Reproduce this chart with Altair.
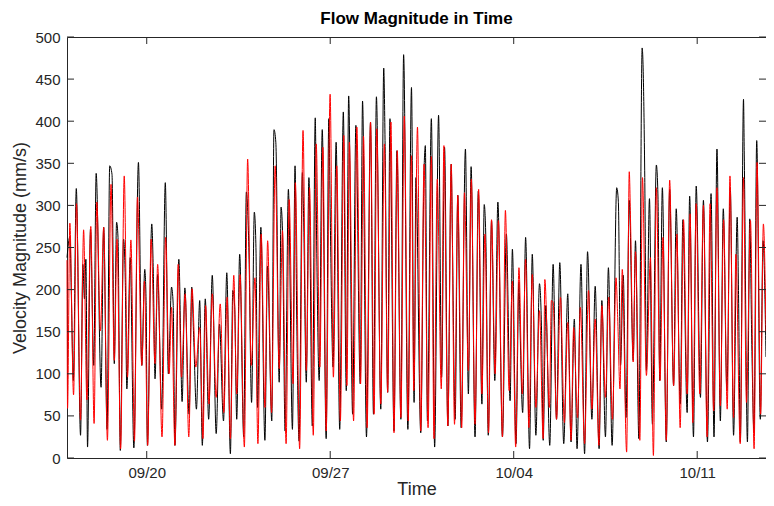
import altair as alt
import pandas as pd

START = pd.Timestamp("2023-09-16 23:00")

# Black series: turning points (hours since start, mm/s)
black_hours = [0, 2.7, 4.0, 5.8, 8.5, 12.4, 14.5, 16.0, 17.3, 18.8, 21.5, 24.5, 26.7, 31.2, 33.6, 36.7, 39.1, 41.2, 43.3, 45.4, 46.7, 48.8, 51.8, 53.3, 54.8, 57.9, 61.2,
               65.4, 68.5, 71.2, 72.4, 73.6, 77.6, 79.0, 80.6, 83.0, 86.7, 90.0, 92.8, 95.7, 97.2, 98.8, 102.4, 105.4, 107.9, 111.8, 114.2, 116.0, 118.5, 121.5, 123.9,
               126.6, 129.7, 133.0, 136.6, 139.6, 143.3, 146.3, 149.6, 151.8, 153.5, 155.4, 158.1, 161.8, 164.2, 166.5, 169.0, 171.5, 173.0, 174.5, 177.5, 181.2, 183.6, 187.5, 189.5,
               191.2, 194.3, 196.0, 197.3, 199.7, 202.7, 206.4, 208.8, 210.3, 212.5, 215.5, 216.6, 219.1, 221.5, 224.6, 227.3, 228.5, 230.9, 233.7, 237.3, 239.7, 241.2, 243.6, 246.4, 249.7, 253.0,
               255.7, 257.9, 261.5, 264.5, 268.5, 270.6, 274.2, 277.9, 280.6, 283.3, 287.3, 290.0, 291.2, 293.6, 295.7, 299.4, 302.1, 305.7, 308.2, 312.1, 315.4,
               317.8, 319.5, 323.9, 326.9, 328.1, 330.0, 333.6, 336.6, 340.2, 343.0, 345.7, 348.7, 351.8, 352.6, 355.4, 357.8, 360.9, 364.8, 367.5, 370.0, 373.6, 376.6, 379.9,
               382.0, 383.5, 385.7, 388.7, 391.7, 394.5, 398.7, 402.3, 405.7, 407.8, 411.1, 413.8, 414.8, 417.2, 419.9, 423.5, 426.0, 429.3, 432.6, 434.5, 436.0, 438.4, 442.0,
               445.1, 448.2, 451.2, 454.8, 458.5, 459.7, 461.5, 464.5, 467.0, 470.6, 473.9, 476.6, 480.6, 483.6, 487.2, 489.7, 493.0, 495.7, 499.1, 503.3, 504.8,
               506.8, 509.3, 511.8, 514.8, 518.4, 520.5, 523.6, 526.6, 529.0, 530.5, 533.3, 536.0, 539.6, 541.1, 542.7, 545.1, 548.7, 551.8, 555.4, 557.8, 561.5, 563.9, 567.8, 570.1,
               573.6, 576.1, 580.0, 582.7, 586.4, 589.7, 592.4, 595.1, 598.2, 600.9, 604.2, 607.3, 610.3, 613.6, 614.8, 616.5, 619.4, 620.1, 623.0, 625.1, 627.0, 629.0, 631.5, 634.8, 637.3, 640.0]
black_vals = [238, 263, 193, 92, 320, 27, 230, 189, 236, 13, 272, 110, 338, 84, 274, 34, 347, 337, 112, 280, 262, 9, 260, 215, 82, 238, 12,
              351, 110, 224, 187, 15, 278, 222, 94, 218, 58, 327, 100, 203, 183, 15, 236, 67, 202, 52, 203, 143, 58, 187, 15,
              189, 46, 217, 29, 159, 44, 220, 5, 199, 180, 46, 242, 25, 316, 250, 66, 292, 250, 60, 274, 21, 228, 44, 390,
              375, 90, 298, 270, 32, 319, 34, 347, 171, 20, 339, 290, 90, 333, 38, 404, 266, 92, 390, 23, 403, 270, 108, 375, 34, 411,
              80, 430, 52, 395, 88, 424, 25, 399, 52, 429, 58, 463, 377, 78, 403, 32, 365, 46, 479, 34, 440,
              66, 333, 30, 341, 371, 44, 403, 13, 407, 96, 369, 38, 349, 286, 46, 312, 36, 367, 76, 346, 25, 317, 64,
              301, 260, 27, 282, 92, 304, 25, 266, 68, 248, 17, 209, 155, 54, 262, 11, 242, 27, 207, 151, 21, 181, 15,
              230, 46, 232, 17, 195, 127, 19, 165, 11, 230, 5, 245, 46, 204, 11, 187, 25, 226, 15, 321, 305,
              110, 217, 48, 306, 116, 258, 23, 487, 333, 104, 308, 40, 348, 310, 92, 321, 19, 319, 86, 296, 64, 283, 54, 311,
              25, 323, 72, 306, 19, 314, 25, 367, 44, 296, 80, 321, 27, 286, 199, 19, 426, 361, 19, 284, 135, 30, 377, 46, 258, 120]

# Red series: turning points (hours since start, mm/s)
red_hours = [0, 0.5, 2.6, 6.0, 8.7, 12.4, 15.2, 18.2, 21.8, 24.8, 27.3, 30.6, 33.6, 37.0, 40.3, 43.3, 45.8, 49.1, 52.4, 55.4, 58.5, 61.8,
             64.5, 68.5, 70.9, 73.9, 77.0, 80.6, 83.0, 87.0, 90.3, 93.5, 95.7, 98.8, 101.8, 104.8, 108.2, 111.5, 114.5, 117.9, 121.5, 124.5,
             126.9, 130.0, 133.0, 136.6, 140.3, 143.6, 146.6, 149.6, 152.7, 155.4, 158.4, 162.4, 165.4, 168.7, 172.1, 174.8, 177.8, 181.2, 183.7, 187.3,
             190.6, 194.3, 197.3, 200.6, 203.4, 207.0, 209.1, 213.0, 216.1, 219.1, 222.1, 225.5, 228.2, 231.5, 234.3, 237.3, 240.9, 243.9, 247.0, 250.3, 253.4,
             256.3, 258.5, 262.4, 265.4, 268.8, 271.5, 274.8, 277.9, 281.2, 283.6, 287.3, 290.6, 293.6, 296.6, 299.4, 302.4, 305.7, 308.8, 312.4, 315.4,
             317.5, 320.9, 323.9, 326.9, 330.6, 333.6, 336.0, 339.0, 342.7, 345.1, 348.7, 351.8, 354.8, 357.8, 361.4, 363.9, 367.5, 370.2, 373.6, 376.9, 379.9,
             382.6, 386.0, 388.7, 392.0, 395.0, 398.7, 401.4, 404.8, 407.8, 410.8, 413.8, 416.9, 419.9, 422.9, 426.0, 429.3, 432.6, 436.0, 437.5, 441.7, 443.5,
             445.1, 448.2, 451.8, 455.4, 458.5, 461.5, 463.9, 467.5, 470.0, 473.9, 477.5, 480.6, 483.6, 487.0, 489.7, 493.0, 496.0, 499.4, 502.7, 504.2, 506.3,
             508.4, 512.4, 514.8, 516.0, 518.4, 520.5, 524.5, 526.9, 530.5, 534.2, 536.9, 539.6, 543.0, 545.7, 548.7, 551.8, 555.4, 558.4, 561.4, 564.5, 567.8, 570.5,
             573.0, 576.1, 579.4, 582.7, 586.1, 588.8, 592.1, 595.1, 598.2, 601.2, 604.5, 607.0, 610.3, 612.4, 616.4, 619.4, 622.1, 625.8, 629.1, 631.8, 635.1, 637.6, 640.0]
red_vals = [235, 59, 279, 75, 302, 45, 271, 69, 275, 41, 304, 151, 274, 21, 325, 116, 260, 11, 335, 96, 259, 20,
            310, 110, 210, 15, 260, 112, 230, 25, 262, 100, 179, 15, 230, 96, 195, 25, 201, 108, 155, 23,
            181, 64, 195, 72, 183, 54, 191, 23, 217, 76, 218, 13, 355, 110, 214, 17, 266, 60, 258, 54,
            347, 106, 270, 17, 307, 88, 327, 11, 389, 104, 321, 27, 373, 108, 369, 32, 432, 96, 347, 44, 383,
            86, 375, 44, 393, 88, 382, 36, 399, 52, 391, 64, 373, 78, 399, 30, 365, 48, 406, 44, 359,
            80, 393, 32, 349, 36, 358, 23, 331, 82, 371, 38, 349, 40, 312, 36, 315, 104, 331, 40, 319, 76,
            266, 30, 283, 100, 282, 25, 294, 80, 210, 13, 226, 76, 236, 36, 218, 60, 175, 23, 212, 60, 187,
            185, 46, 191, 42, 161, 21, 155, 48, 179, 17, 199, 58, 165, 15, 181, 72, 191, 46, 214, 167, 82,
            224, 7, 340, 280, 114, 245, 21, 333, 98, 238, 3, 321, 92, 262, 21, 330, 86, 266, 36, 283, 76, 290,
            42, 302, 76, 300, 25, 302, 56, 321, 62, 283, 58, 335, 48, 242, 17, 333, 66, 282, 11, 351, 52, 278, 150]

y_tick_values = [0, 50, 100, 150, 200, 250, 300, 350, 400, 450, 500]
x_tick_dates = ["2023-09-20T00:00:00", "2023-09-27T00:00:00", "2023-10-04T00:00:00", "2023-10-11T00:00:00"]

W, H = 699, 421
AX = "#262626"
FONT = "Liberation Sans"


def to_frame(hours, vals):
    return pd.DataFrame({
        "time": [(START + pd.Timedelta(hours=h)).strftime("%Y-%m-%dT%H:%M:%S") for h in hours],
        "value": vals,
    })


black_df = to_frame(black_hours, black_vals)
red_df = to_frame(red_hours, red_vals)

x_enc = alt.X(
    "time:T",
    scale=alt.Scale(domain=[alt.DateTime(year=2023, month=9, date=16, hours=23),
                            alt.DateTime(year=2023, month=10, date=13, hours=15)]),
    axis=alt.Axis(values=[alt.DateTime(year=2023, month=9, date=20),
                          alt.DateTime(year=2023, month=9, date=27),
                          alt.DateTime(year=2023, month=10, date=4),
                          alt.DateTime(year=2023, month=10, date=11)],
                  format="%m/%d", title="Time", labelPadding=7, titlePadding=0,
                  labelFlush=False),
)
y_enc = alt.Y(
    "value:Q",
    scale=alt.Scale(domain=[0, 500], nice=False),
    axis=alt.Axis(values=y_tick_values, title="Velocity Magnitude (mm/s)",
                  labelPadding=7, titlePadding=5, labelFlush=False),
)

black_line = alt.Chart(black_df).mark_line(color="#000000", strokeWidth=1, interpolate="monotone").encode(x=x_enc, y=y_enc)
red_line = alt.Chart(red_df).mark_line(color="#ff0000", strokeWidth=1, interpolate="monotone").encode(x=x_enc, y=y_enc)

xt = pd.DataFrame({"time": x_tick_dates})
yt = pd.DataFrame({"value": y_tick_values})

tick_b = alt.Chart(xt).mark_rule(color=AX, strokeWidth=1).encode(x=x_enc, y=alt.value(H), y2=alt.value(H - 7))
tick_t = alt.Chart(xt).mark_rule(color=AX, strokeWidth=1).encode(x=x_enc, y=alt.value(0), y2=alt.value(7))
tick_l = alt.Chart(yt).mark_rule(color=AX, strokeWidth=1).encode(y=y_enc, x=alt.value(0), x2=alt.value(7))
tick_r = alt.Chart(yt).mark_rule(color=AX, strokeWidth=1).encode(y=y_enc, x=alt.value(W), x2=alt.value(W - 7))

chart = (
    alt.layer(black_line, red_line, tick_b, tick_t, tick_l, tick_r)
    .properties(
        width=W, height=H,
        title=alt.TitleParams("Flow Magnitude in Time", font=FONT, fontSize=17,
                              fontWeight="bold", color="#000000", offset=2),
        padding={"left": 59, "top": 29, "right": 0, "bottom": 40},
        autosize=alt.AutoSizeParams(type="none"),
        background="white",
    )
    .configure_axis(labelFont=FONT, labelFontSize=15, labelColor=AX,
                    titleFont=FONT, titleFontSize=18, titleFontWeight="normal", titleColor=AX,
                    ticks=False, domain=False, grid=False)
    .configure_view(stroke=AX, strokeWidth=1)
)

chart.save("out.html", embed_options={"renderer": "svg", "actions": False})
